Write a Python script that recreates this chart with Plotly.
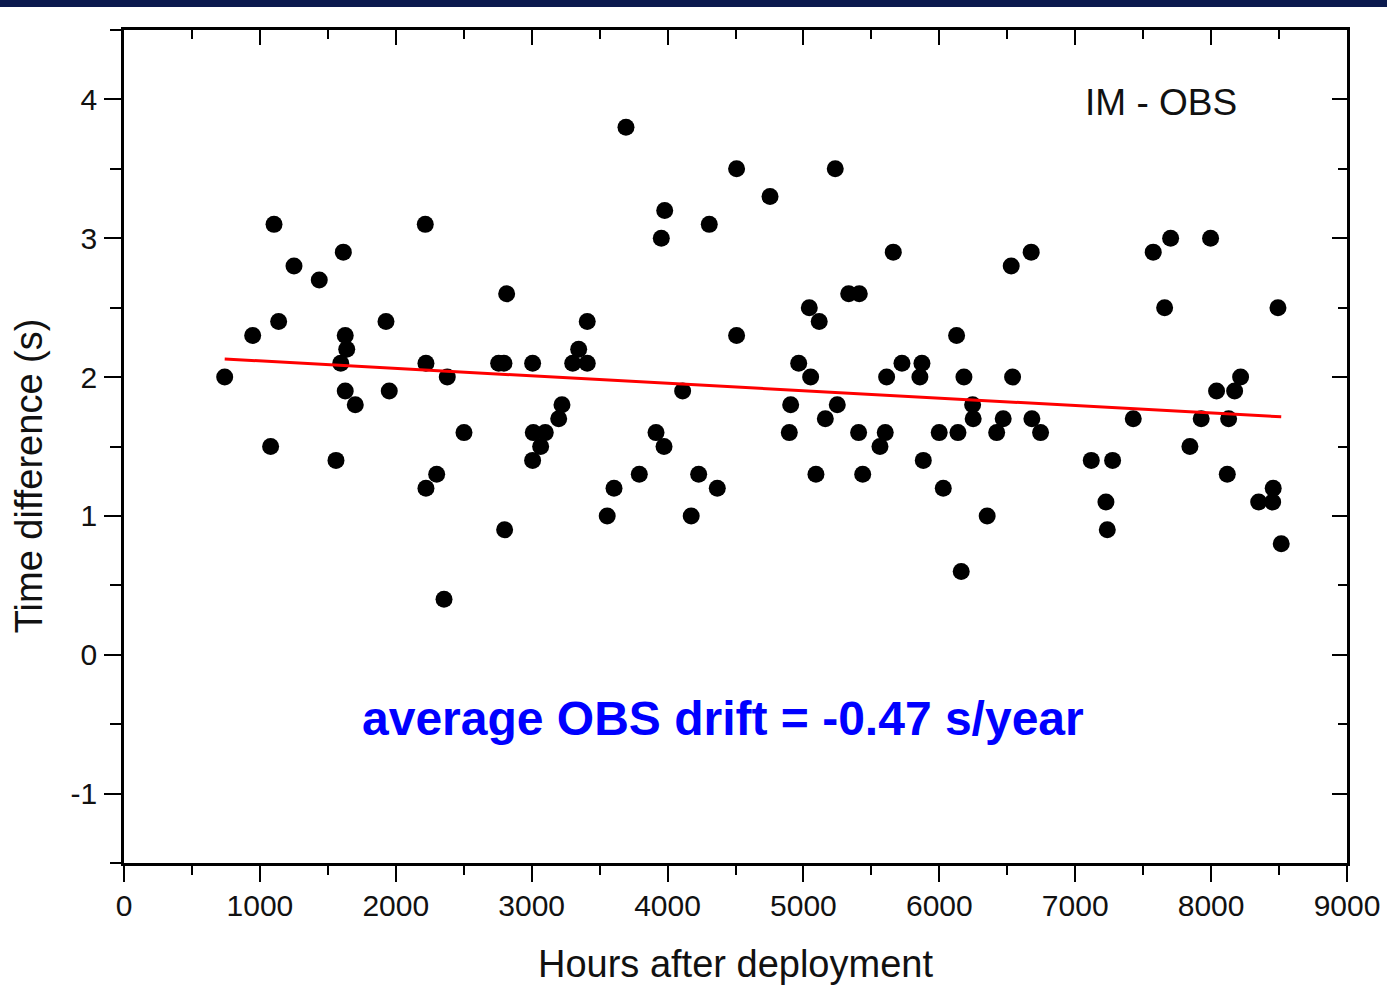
import plotly.graph_objects as go

# Hours after deployment and IM - OBS time difference (s)
hours = [741, 947, 1079, 1104, 1138, 1251, 1437, 1560, 1595, 1614, 1628, 1628, 1639,
         1702, 1952, 1928, 2217, 2222, 2222, 2301, 2355, 2379, 2502, 2757, 2796, 2801,
         2816, 3007, 3007, 3012, 3066, 3100, 3199, 3223, 3302, 3346, 3409, 3409, 3556,
         3606, 3694, 3792, 3915, 3974, 3954, 3979, 4111, 4174, 4229, 4307, 4366, 4508,
         4508, 4754, 4896, 4906, 4965, 5043, 5053, 5092, 5116, 5161, 5234, 5249, 5333,
         5411, 5406, 5436, 5563, 5602, 5612, 5661, 5725, 5857, 5872, 5882, 5999, 6029,
         6127, 6137, 6161, 6181, 6245, 6249, 6352, 6422, 6470, 6529, 6539, 6676, 6681,
         6745, 7118, 7226, 7236, 7275, 7427, 7574, 7658, 7702, 7844, 7927, 7996, 8040,
         8119, 8129, 8173, 8217, 8350, 8453, 8457, 8492, 8516]
time_diff = [2.0, 2.3, 1.5, 3.1, 2.4, 2.8, 2.7, 1.4, 2.1, 2.9, 1.9, 2.3, 2.2,
             1.8, 1.9, 2.4, 3.1, 2.1, 1.2, 1.3, 0.4, 2.0, 1.6, 2.1, 2.1, 0.9,
             2.6, 2.1, 1.4, 1.6, 1.5, 1.6, 1.7, 1.8, 2.1, 2.2, 2.1, 2.4, 1.0,
             1.2, 3.8, 1.3, 1.6, 1.5, 3.0, 3.2, 1.9, 1.0, 1.3, 3.1, 1.2, 3.5,
             2.3, 3.3, 1.6, 1.8, 2.1, 2.5, 2.0, 1.3, 2.4, 1.7, 3.5, 1.8, 2.6,
             2.6, 1.6, 1.3, 1.5, 1.6, 2.0, 2.9, 2.1, 2.0, 2.1, 1.4, 1.6, 1.2,
             2.3, 1.6, 0.6, 2.0, 1.8, 1.7, 1.0, 1.6, 1.7, 2.8, 2.0, 2.9, 1.7,
             1.6, 1.4, 1.1, 0.9, 1.4, 1.7, 2.9, 2.5, 3.0, 1.5, 1.7, 3.0, 1.9,
             1.3, 1.7, 1.9, 2.0, 1.1, 1.1, 1.2, 2.5, 0.8]

# Linear drift: -0.47 s per year, expressed per hour
drift_per_year = -0.47
hours_per_year = 8766
intercept = 2.17
fit_x = [min(hours), max(hours)]
fit_y = [intercept + drift_per_year / hours_per_year * h for h in fit_x]

x_ticks = [0, 1000, 2000, 3000, 4000, 5000, 6000, 7000, 8000, 9000]
y_ticks = [-1, 0, 1, 2, 3, 4]

FONT = "Liberation Sans, Arial, sans-serif"

fig = go.Figure()
fig.add_trace(go.Scatter(
    x=hours, y=time_diff, mode="markers",
    marker=dict(color="black", size=17, line=dict(width=0)),
    showlegend=False, hoverinfo="x+y"))
fig.add_trace(go.Scatter(
    x=fit_x, y=fit_y, mode="lines",
    line=dict(color="#ff0000", width=3),
    showlegend=False, hoverinfo="skip"))
# placeholder trace so the mirrored top/right axes are drawn
fig.add_trace(go.Scatter(x=[None], y=[None], xaxis="x2", yaxis="y2",
                         showlegend=False, hoverinfo="skip"))

common_axis = dict(showgrid=False, zeroline=False, showline=True,
                   linecolor="black", linewidth=2.5, tickcolor="black",
                   tickwidth=2)

fig.update_layout(
    width=1387, height=986,
    margin=dict(l=124, r=40, t=30, b=123),
    paper_bgcolor="white", plot_bgcolor="white",
    font=dict(family=FONT, color="#111111"),
    xaxis=dict(range=[0, 9000], tickvals=x_ticks, ticktext=[str(v) for v in x_ticks],
               ticks="outside", ticklen=16, ticklabelstandoff=-2,
               minor=dict(dtick=500, tick0=0, ticks="outside", ticklen=9,
                          tickwidth=2, tickcolor="black"),
               tickfont=dict(size=30, family=FONT),
               title=dict(text="Hours after deployment", font=dict(size=38, family=FONT),
                          standoff=30),
               automargin=False, **common_axis),
    yaxis=dict(range=[-1.5, 4.5], tickvals=y_ticks, ticktext=[str(v) for v in y_ticks],
               ticks="outside", ticklen=17, ticklabelstandoff=1,
               minor=dict(dtick=0.5, tick0=0, ticks="outside", ticklen=11,
                          tickwidth=2, tickcolor="black"),
               tickfont=dict(size=30, family=FONT),
               automargin=False, **common_axis),
    xaxis2=dict(range=[0, 9000], overlaying="x", side="top", tickvals=x_ticks,
                showticklabels=False, ticks="inside", ticklen=15,
                minor=dict(dtick=500, tick0=0, ticks="inside", ticklen=9,
                           tickwidth=2, tickcolor="black"),
                anchor="y", automargin=False, **common_axis),
    yaxis2=dict(range=[-1.5, 4.5], overlaying="y", side="right", tickvals=y_ticks,
                showticklabels=False, ticks="inside", ticklen=15,
                minor=dict(dtick=0.5, tick0=0, ticks="inside", ticklen=9,
                           tickwidth=2, tickcolor="black"),
                anchor="x", automargin=False, **common_axis),
    annotations=[
        # y-axis title, placed by hand so it sits slightly below the plot centre
        dict(text="Time difference (s)", textangle=-90, x=-0.078, y=1.29,
             xref="paper", yref="y", xanchor="center", yanchor="middle",
             showarrow=False, font=dict(size=38, family=FONT, color="#111111")),
        dict(text="IM - OBS", x=7630, y=3.98, xref="x", yref="y",
             xanchor="center", yanchor="middle", showarrow=False,
             font=dict(size=37, family=FONT, color="#111111")),
        dict(text="<b>average OBS drift = -0.47 s/year</b>", x=4410, y=-0.46,
             xref="x", yref="y", xanchor="center", yanchor="middle", showarrow=False,
             font=dict(size=48, family=FONT, color="#0000ff")),
    ],
    shapes=[
        # dark banner strip along the top edge of the page
        dict(type="rect", xref="paper", yref="paper",
             x0=-0.11, x1=1.04, y0=1.0276, y1=1.04,
             fillcolor="#0b1a4e", line=dict(width=0), layer="above"),
    ],
)

fig.write_html("out.html")
